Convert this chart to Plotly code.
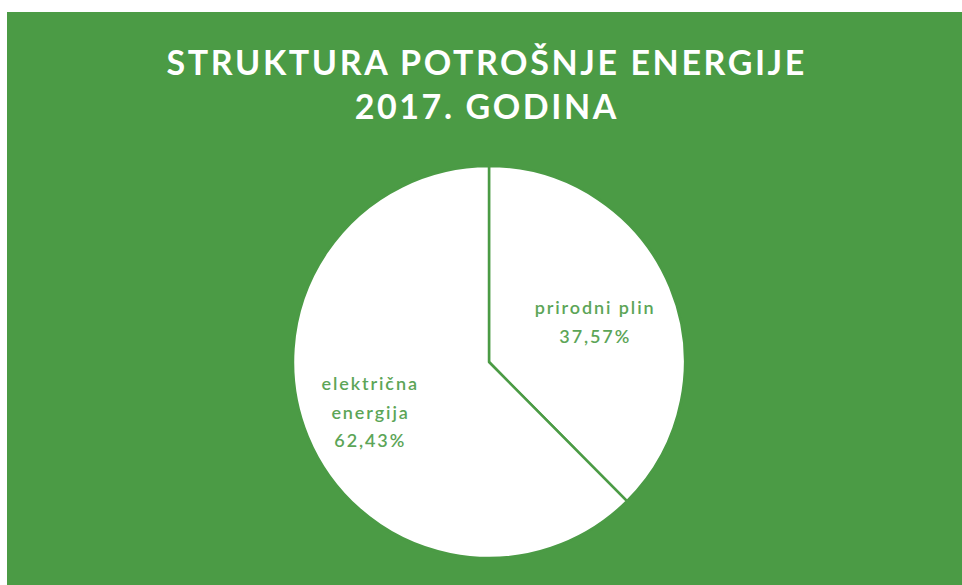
import plotly.graph_objects as go

# Data
categories = ["prirodni plin", "električna energija"]
label_lines = [["prirodni plin"], ["električna", "energija"]]
shares = [37.57, 62.43]

title_lines = ["STRUKTURA POTROŠNJE ENERGIJE", "2017. GODINA"]

BG = "#4b9b45"
TEXT_GREEN = "#5ca557"

W, H = 962, 585
cx, cy, r = 489, 362, 196


def px(x):
    return x / W


def py(y):
    return 1 - y / H


fig = go.Figure()
fig.add_trace(go.Pie(
    labels=categories,
    values=shares,
    textinfo="none",
    sort=False,
    direction="clockwise",
    rotation=0,
    marker=dict(colors=["#ffffff", "#ffffff"], line=dict(color=BG, width=2.5)),
    showlegend=False,
    hoverinfo="label+percent",
    domain=dict(x=[px(cx - r), px(cx + r)], y=[py(cy + r), py(cy - r)]),
))

# in-slice labels (text built from the data arrays), one line each
label_anchor = [(595, 307), (370, 383)]
line_step = 28.5
annotations = []
for lines, share, (lx, ly) in zip(label_lines, shares, label_anchor):
    pct = f"{share:.2f}".replace(".", ",") + "%"
    for i, t in enumerate(lines + [pct]):
        annotations.append(dict(
            text=t, x=px(lx), y=py(ly + i * line_step), xref="paper", yref="paper",
            xanchor="center", yanchor="middle", showarrow=False,
            font=dict(family="Lato", size=18, color=TEXT_GREEN, weight=600),
        ))

annotations.append(dict(
    text="<br>".join(title_lines), x=px(487), y=py(84), xref="paper", yref="paper",
    xanchor="center", yanchor="middle", showarrow=False,
    font=dict(family="Lato", size=34, color="white", weight="bold"),
))

fig.update_layout(
    width=W, height=H,
    paper_bgcolor=BG,
    plot_bgcolor=BG,
    margin=dict(l=0, r=0, t=0, b=0),
    annotations=annotations,
    shapes=[
        dict(type="rect", xref="paper", yref="paper", x0=0, x1=1, y0=py(12), y1=1,
             fillcolor="white", line=dict(width=0), layer="above"),
        dict(type="rect", xref="paper", yref="paper", x0=0, x1=px(7), y0=0, y1=1,
             fillcolor="white", line=dict(width=0), layer="above"),
    ],
)

post = """
document.body.style.margin = '0';
function spaceText() {
  var gd = document.getElementById('{plot_id}');
  gd.querySelectorAll('text.annotation-text').forEach(function (t) {
    var fs = parseFloat(t.style.fontSize);
    t.style.letterSpacing = fs > 25 ? '2.6px' : '1.9px';
  });
}
spaceText();
setTimeout(spaceText, 0);
"""

fig.write_html("out.html", post_script=post, config={"displayModeBar": False})
